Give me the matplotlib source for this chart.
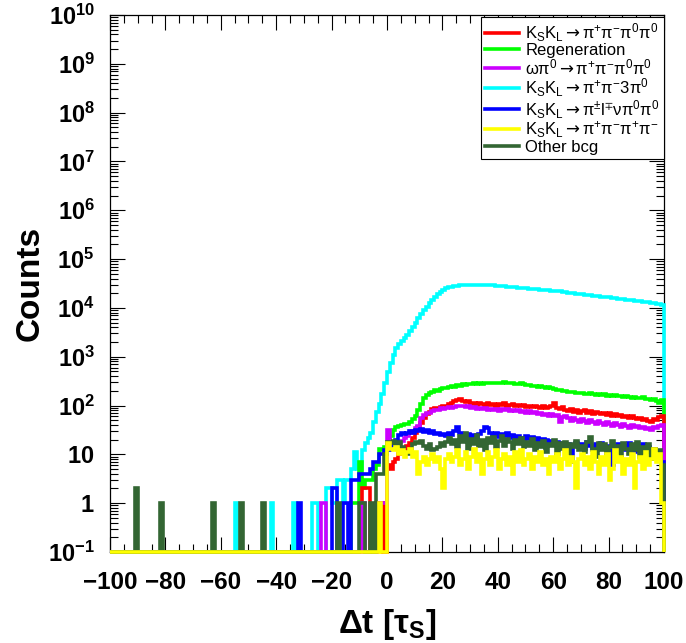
import numpy as np
import matplotlib
matplotlib.use("Agg")
import matplotlib.pyplot as plt
from matplotlib.ticker import FixedLocator, FuncFormatter, LogLocator, MultipleLocator
from matplotlib.lines import Line2D

plt.rcParams['font.family'] = ['Liberation Sans', 'DejaVu Sans']
plt.rcParams['mathtext.fontset'] = 'custom'
plt.rcParams['mathtext.rm'] = 'Liberation Sans'
plt.rcParams['mathtext.bf'] = 'Liberation Sans:bold'
plt.rcParams['mathtext.it'] = 'Liberation Sans:italic'
plt.rcParams['mathtext.sf'] = 'DejaVu Sans'
plt.rcParams['mathtext.default'] = 'regular'

# histogram: 200 bins of width 1 tau_S from -100 to 100
edges = np.arange(-100, 101)

# sparse counts for dt < 0  (bin left edge, counts)
cyan_neg_t = [-55, -42, -34, -27, -26, -22, -21, -20, -19, -18, -17, -16, -15, -14,
              -13, -12, -11, -10, -9, -8, -7, -6, -5, -4, -3, -2, -1]
cyan_neg_n = [1, 1, 1, 1, 1, 2, 2, 1, 1, 3, 3, 1, 3, 3,
              5, 11, 5, 5, 12, 17, 22, 27, 45, 75, 110, 170, 290]
green_neg_t = [-13, -12, -11, -10, -9, -8, -7, -6, -5, -4, -3, -2, -1]
green_neg_n = [1, 1, 1, 7, 2, 3, 3, 3, 5, 6, 13, 12, 14]
red_neg_t = [-9, -8, -7, -4, -2]
red_neg_n = [2, 2, 2, 1, 1]
magenta_neg_t = [-24, -23, -9, -3, -2, -1]
magenta_neg_n = [1, 1, 1, 1, 1, 1]
blue_neg_t = [-32, -20, -19, -16, -15, -13, -12, -11, -10, -9, -8, -7, -6, -5, -4, -3, -2, -1]
blue_neg_n = [1, 2, 2, 1, 1, 3, 3, 3, 4, 4, 4, 4, 5, 7, 7, 10, 10, 12]
dkgreen_neg_t = [-91, -82, -63, -53, -45, -18, -10, -9, -6, -4, -3, -2, -1]
dkgreen_neg_n = [2, 1, 1, 1, 1, 1, 1, 1, 1, 4, 4, 4, 10]
yellow_neg_t = [-3]
yellow_neg_n = [1]

# counts for dt = 0 ... 99
cyan_pos = [480, 750, 1100, 1500, 1800, 2100, 2400, 2800, 3300, 4000,
            5000, 6200, 7600, 9000, 10500, 12500, 14500, 17000, 19000, 21000,
            23000, 25000, 26300, 27300, 28000, 28500, 29000, 29400, 29700, 29900,
            30000, 30000, 30000, 29900, 29800, 29600, 29400, 29100, 28800, 28500,
            28200, 27900, 27600, 27300, 27000, 26700, 26400, 26100, 25800, 25500,
            25200, 24900, 24600, 24300, 24000, 23700, 23400, 23100, 22800, 22600,
            22400, 22100, 21700, 21300, 20900, 20500, 20200, 19900, 19500, 19200,
            18900, 18600, 18300, 18000, 17700, 17400, 17200, 16900, 16700, 16600,
            16400, 16100, 15800, 15500, 15200, 15000, 14700, 14500, 14200, 14000,
            13800, 13600, 13400, 13200, 13000, 12700, 12400, 12100, 11800, 11500]
green_pos = [18, 24, 31, 36, 38, 40, 41, 42, 45, 52,
             62, 80, 110, 145, 165, 180, 190, 205, 200, 215,
             230, 225, 240, 250, 245, 262, 255, 270, 265, 280,
             272, 285, 275, 290, 280, 285, 295, 283, 290, 285,
             292, 288, 310, 290, 285, 295, 280, 275, 285, 270,
             262, 268, 255, 250, 245, 248, 238, 232, 236, 225,
             218, 212, 206, 200, 196, 190, 192, 186, 182, 185,
             180, 176, 172, 178, 170, 166, 170, 162, 172, 160,
             165, 158, 166, 156, 160, 152, 158, 150, 145, 152,
             146, 140, 148, 138, 135, 130, 134, 122, 115, 128]
red_pos = [6, 5, 7, 8, 10, 12, 13, 15, 17, 22,
           28, 36, 44, 55, 68, 75, 86, 90, 88, 95,
           100, 98, 108, 115, 122, 128, 135, 125, 118, 122,
           110, 115, 105, 112, 108, 100, 115, 105, 110, 98,
           108, 102, 112, 100, 105, 110, 98, 104, 96, 102,
           95, 100, 92, 98, 94, 90, 96, 88, 92, 100,
           115, 90, 85, 92, 80, 78, 84, 75, 80, 72,
           78, 82, 70, 76, 68, 74, 70, 66, 72, 64,
           70, 62, 66, 60, 64, 58, 62, 56, 60, 55,
           52, 56, 50, 54, 48, 46, 52, 50, 58, 62]
magenta_pos = [31, 18, 17, 17, 18, 19, 22, 24, 28, 30,
               34, 38, 55, 65, 70, 72, 78, 82, 80, 88,
               85, 90, 92, 88, 95, 98, 100, 96, 92, 98,
               90, 94, 86, 88, 84, 90, 82, 86, 80, 85,
               78, 84, 80, 86, 78, 82, 76, 80, 74, 78,
               72, 76, 70, 74, 66, 70, 64, 68, 62, 66,
               60, 64, 45, 58, 62, 55, 48, 56, 50, 46,
               52, 48, 44, 50, 46, 42, 48, 44, 40, 46,
               42, 38, 44, 40, 36, 42, 38, 35, 40, 36,
               38, 34, 37, 33, 35, 32, 36, 34, 38, 40]
blue_pos = [12, 15, 17, 20, 25, 27, 26, 28, 30, 27,
            32, 30, 33, 29, 31, 28, 30, 26, 27, 25,
            26, 24, 27, 25, 30, 36, 28, 25, 24, 26,
            23, 25, 22, 26, 30, 37, 34, 28, 25, 27,
            23, 26, 24, 28, 22, 25, 21, 24, 22, 20,
            24, 21, 23, 19, 22, 18, 21, 20, 17, 19,
            16, 18, 15, 17, 14, 16, 7, 15, 17, 14,
            16, 13, 18, 15, 12, 16, 14, 17, 13, 15,
            12, 6, 14, 16, 13, 15, 12, 17, 14, 11,
            15, 13, 16, 12, 14, 11, 13, 9, 9, 7]
dkgreen_pos = [18, 17, 19, 16, 18, 14, 11, 10, 12, 16,
               18, 17, 19, 15, 13, 16, 12, 13, 14, 17,
               15, 18, 22, 16, 20, 14, 24, 18, 27, 13,
               21, 16, 25, 15, 20, 12, 22, 17, 23, 14,
               19, 24, 15, 21, 18, 13, 20, 16, 22, 14,
               18, 15, 21, 12, 17, 14, 19, 11, 16, 15,
               20, 10, 17, 13, 18, 9, 16, 14, 19, 12,
               15, 11, 18, 23, 13, 9, 17, 12, 16, 8,
               14, 19, 11, 15, 9, 17, 13, 10, 16, 12,
               18, 9, 14, 11, 16, 8, 13, 10, 12, 6]
yellow_pos = [17, 13, 12, 14, 10, 12, 9, 11, 13, 9,
              11, 4, 7, 9, 6, 8, 10, 7, 9, 5,
              2, 8, 10, 7, 9, 12, 6, 8, 11, 5,
              9, 13, 7, 10, 4, 8, 11, 6, 9, 12,
              5, 8, 10, 6, 9, 4, 11, 7, 12, 6,
              8, 10, 5, 9, 7, 11, 6, 8, 4, 9,
              7, 10, 5, 8, 12, 6, 9, 7, 2, 8,
              10, 6, 9, 5, 11, 7, 4, 9, 6, 10,
              3, 5, 12, 7, 9, 4, 8, 6, 10, 2,
              7, 9, 5, 11, 6, 8, 13, 7, 10, 1]

arr = r'$\mathsf{\rightarrow}$'
labels = [r'K$_{S}$K$_{L}$' + arr + r'π$^{+}$π$^{-}$π$^{0}$π$^{0}$',
          'Regeneration',
          r'ωπ$^{0}$' + arr + r'π$^{+}$π$^{-}$π$^{0}$π$^{0}$',
          r'K$_{S}$K$_{L}$' + arr + r'π$^{+}$π$^{-}$3π$^{0}$',
          r'K$_{S}$K$_{L}$' + arr + r'π$^{\pm}$l$^{\mp}$νπ$^{0}$π$^{0}$',
          r'K$_{S}$K$_{L}$' + arr + r'π$^{+}$π$^{-}$π$^{+}$π$^{-}$',
          'Other bcg']
colors = ['#ff0000', '#00ff00', '#cc00ff', '#00ffff', '#0000ff', '#ffff00', '#336633']


def make_hist(neg_t, neg_n, pos):
    h = np.zeros(len(edges) - 1)
    h[np.array(neg_t, dtype=int) + 100] = neg_n
    h[100:] = pos
    # empty bins sit on the floor of the log axis, as in ROOT
    return np.where(h > 0, h, 0.1)


hists = [make_hist(red_neg_t, red_neg_n, red_pos),
         make_hist(green_neg_t, green_neg_n, green_pos),
         make_hist(magenta_neg_t, magenta_neg_n, magenta_pos),
         make_hist(cyan_neg_t, cyan_neg_n, cyan_pos),
         make_hist(blue_neg_t, blue_neg_n, blue_pos),
         make_hist(yellow_neg_t, yellow_neg_n, yellow_pos),
         make_hist(dkgreen_neg_t, dkgreen_neg_n, dkgreen_pos)]

fig = plt.figure(figsize=(6.86, 6.43), dpi=100)
ax = fig.add_axes([110 / 686, 91 / 643, 554 / 686, 537 / 643])
ax.set_yscale('log')

draw_order = [3, 1, 0, 2, 4, 6, 5]
for i in draw_order:
    ax.stairs(hists[i], edges, baseline=0.1, color=colors[i], lw=2.6,
              zorder=3, clip_on=False)

ax.set_xlim(-100, 100)
ax.set_ylim(0.1, 1e10)

ax.xaxis.set_major_locator(MultipleLocator(20))
ax.xaxis.set_minor_locator(MultipleLocator(5))
ax.yaxis.set_major_locator(FixedLocator([10.0 ** k for k in range(-1, 11)]))
ax.yaxis.set_minor_locator(LogLocator(base=10, subs=np.arange(2, 10), numticks=200))


def ylab(v, pos):
    e = int(round(np.log10(v)))
    if e == 0:
        return r'$\mathbf{1}$'
    if e == 1:
        return r'$\mathbf{10}$'
    return r'$\mathbf{10^{%d}}$' % e


ax.yaxis.set_major_formatter(FuncFormatter(ylab))
ax.yaxis.set_minor_formatter(FuncFormatter(lambda v, p: ''))

ax.tick_params(which='both', direction='in', top=True, right=True, width=0.8)
ax.tick_params(which='major', length=11)
ax.tick_params(which='minor', length=5.5)
ax.tick_params(axis='x', which='major', pad=14, labelsize=17.5)
ax.tick_params(axis='y', which='major', pad=11, labelsize=17)
for lab in ax.get_xticklabels():
    lab.set_fontweight('bold')
for s in ax.spines.values():
    s.set_linewidth(0.9)

ax.set_xlabel(r'$\mathbf{\Delta t\ [\tau_{S}]}$', fontsize=24)
ax.xaxis.set_label_coords(0.5, -0.103)
ax.set_ylabel('Counts', fontsize=24, fontweight='bold')
ax.yaxis.set_label_coords(-0.117, 0.5)

handles = [Line2D([], [], color=c, lw=2.6) for c in colors]
leg = ax.legend(handles, labels, loc='upper right', bbox_to_anchor=(1.0, 1 - 2 / 537),
                borderaxespad=0, fancybox=False, framealpha=1, edgecolor='black',
                fontsize=12, handlelength=2.0, handletextpad=0.4, labelspacing=-0.05,
                borderpad=0.25)
leg.get_frame().set_linewidth(0.8)
leg.set_zorder(5)

fig.savefig('out.png', dpi=100)
